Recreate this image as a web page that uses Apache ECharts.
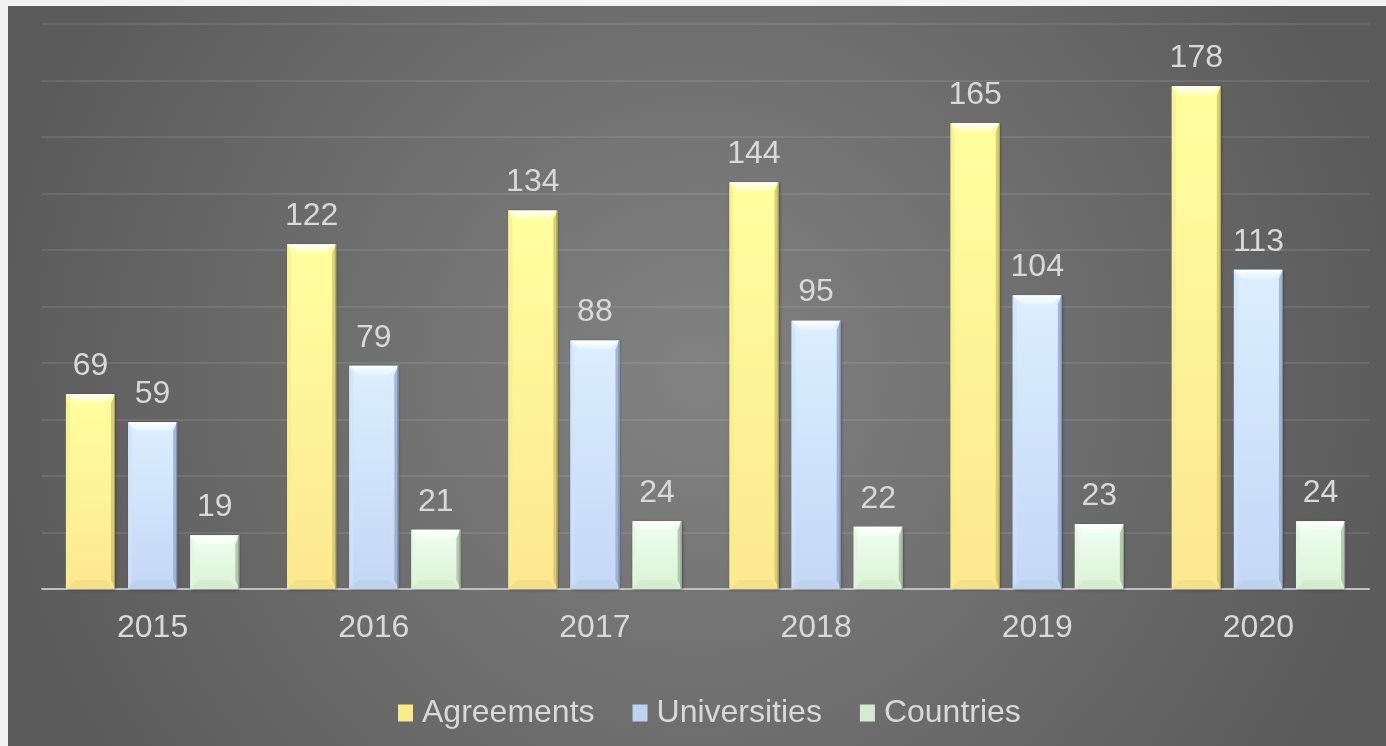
<!DOCTYPE html>
<html>
<head>
<meta charset="utf-8">
<script src="https://cdn.jsdelivr.net/npm/echarts@6/dist/echarts.min.js"></script>
<style>
html,body{margin:0;padding:0;background:#f2f2f2;width:1386px;height:746px;overflow:hidden;}
#c{position:absolute;left:8px;top:6px;width:1378px;height:740px;}
</style>
</head>
<body>
<div id="c"></div>
<script>
const categories = ['2015','2016','2017','2018','2019','2020'];
const agreements = [69,122,134,144,165,178];
const universities = [59,79,88,95,104,113];
const countries = [19,21,24,22,23,24];
const seriesNames = ['Agreements','Universities','Countries'];

const palettes = [
  {top:'#ffff9e', bottom:'#fde88f', hl:'#ffffff', hl2:'#ffffb0', left:'#f3ee8c', right:'#cfc46a', bot:'#f0d982', edge:'#8a8240', legend:'#f7eb8a'},
  {top:'#dbefff', bottom:'#c4d7f6', hl:'#ffffff', hl2:'#e2f2ff', left:'#cfe3fa', right:'#93a9cc', bot:'#bacdee', edge:'#5e6e88', legend:'#bcd3f2'},
  {top:'#effff0', bottom:'#dbf2d5', hl:'#ffffff', hl2:'#f2fff2', left:'#e2f5df', right:'#a9bda3', bot:'#d0e8ca', edge:'#6f7f6a', legend:'#d3ecd0'}
];

function makeRender(si){
  const p = palettes[si];
  return function(params, api){
    const ci = api.value(0);
    const v = api.value(1);
    const top = api.coord([ci, v]);
    const base = api.coord([ci, 0]);
    const band = api.size([1, 0])[0];
    const bw = band * 0.222;
    const gap = bw * 0.265;
    const cx = top[0] + (si - 1) * (bw + gap);
    const x = cx - bw / 2;
    const y = top[1];
    const h = base[1] - top[1];
    const b = Math.min(9, h / 2);
    const s = Math.min(4, h / 2);
    const children = [
      {type:'rect', shape:{x:x, y:y, width:bw, height:h},
        style:{fill:new echarts.graphic.LinearGradient(0,0,0,1,[{offset:0,color:p.top},{offset:1,color:p.bottom}]),
               shadowBlur:3, shadowColor:'rgba(0,0,0,0.35)', shadowOffsetX:1, shadowOffsetY:1}},
      {type:'polygon', shape:{points:[[x,y],[x+bw,y],[x+bw-b,y+b],[x+b,y+b]]},
        style:{fill:new echarts.graphic.LinearGradient(0,0,0,1,[{offset:0,color:p.hl},{offset:1,color:p.hl2}])}},
      {type:'polygon', shape:{points:[[x,y],[x+s,y+b],[x+s,y+h-b],[x,y+h]]},
        style:{fill:p.left, opacity:0.7}},
      {type:'polygon', shape:{points:[[x+bw,y],[x+bw-s,y+b],[x+bw-s,y+h-b],[x+bw,y+h]]},
        style:{fill:p.right, opacity:0.8}},
      {type:'polygon', shape:{points:[[x,y+h],[x+b,y+h-b],[x+bw-b,y+h-b],[x+bw,y+h]]},
        style:{fill:p.bot, opacity:0.6}},
      {type:'rect', shape:{x:x+bw-1, y:y, width:1, height:h}, style:{fill:p.edge, opacity:0.6}},
      {type:'text', style:{text:String(v), x:cx, y:y-28, align:'center', verticalAlign:'middle',
        fill:'#d9d9d9', font:'32px "Liberation Sans", Arial, sans-serif'}}
    ];
    return {type:'group', children:children};
  };
}

const seriesData = [agreements, universities, countries];
const chart = echarts.init(document.getElementById('c'), null, {renderer:'canvas'});
chart.setOption({
  animation:false,
  backgroundColor:{type:'radial', x:0.5, y:0.5, r:0.95,
    colorStops:[{offset:0,color:'#828282'},{offset:1,color:'#5b5b5b'}]},
  textStyle:{fontFamily:'"Liberation Sans", Arial, sans-serif'},
  grid:{left:34, right:17, top:18, bottom:157, containLabel:false},
  legend:{
    data:seriesNames.map((n,i)=>({name:n, itemStyle:{color:palettes[i].legend}})),
    top:686, left:385, icon:'rect', itemWidth:15, itemHeight:17, itemGap:38,
    textStyle:{color:'#d9d9d9', fontSize:32, lineHeight:32, padding:[0,0,0,4]}
  },
  xAxis:{type:'category', data:categories,
    axisLine:{show:true, lineStyle:{color:'#bfbfbf', width:2}},
    axisTick:{show:false},
    axisLabel:{color:'#d9d9d9', fontSize:32, margin:23, lineHeight:32}},
  yAxis:{type:'value', min:0, max:200, interval:20,
    axisLine:{show:false}, axisTick:{show:false}, axisLabel:{show:false},
    splitLine:{show:true, lineStyle:{color:'rgba(255,255,255,0.09)', width:2}}},
  series: seriesNames.map((n,i)=>({
    name:n, type:'custom', renderItem:makeRender(i),
    itemStyle:{color:palettes[i].legend},
    encode:{x:0, y:1},
    data:seriesData[i].map((v,ci)=>[ci, v])
  }))
});
</script>
</body>
</html>
